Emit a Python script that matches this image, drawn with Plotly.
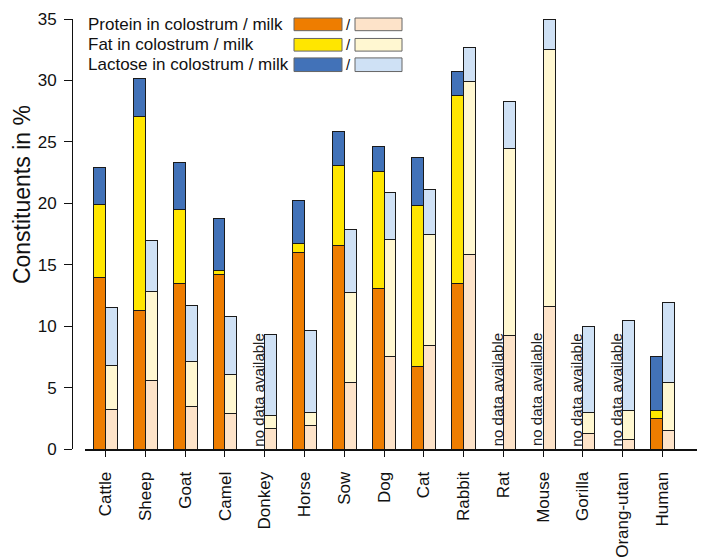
import plotly.graph_objects as go

animals = ["Cattle", "Sheep", "Goat", "Camel", "Donkey", "Horse", "Sow", "Dog",
           "Cat", "Rabbit", "Rat", "Mouse", "Gorilla", "Orang-utan", "Human"]

# colostrum segment values (%); None = no data available
col_protein = [14.0, 11.3, 13.5, 14.2, None, 16.0, 16.6, 13.05, 6.7, 13.5, None, None, None, None, 2.45]
col_fat     = [5.9, 15.75, 6.0, 0.3, None, 0.75, 6.45, 9.55, 13.15, 15.3, None, None, None, None, 0.65]
col_lactose = [3.05, 3.1, 3.85, 4.3, None, 3.45, 2.8, 2.0, 3.9, 1.9, None, None, None, None, 4.45]

# milk segment values (%)
milk_protein = [3.2, 5.6, 3.5, 2.9, 1.65, 1.9, 5.4, 7.5, 8.4, 15.8, 9.25, 11.6, 1.3, 0.8, 1.5]
milk_fat     = [3.6, 7.2, 3.6, 3.2, 1.05, 1.1, 7.35, 9.55, 9.05, 14.15, 15.25, 20.9, 1.7, 2.35, 3.9]
milk_lactose = [4.7, 4.2, 4.55, 4.65, 6.6, 6.65, 5.15, 3.8, 3.65, 2.7, 3.8, 2.5, 7.0, 7.35, 6.5]

y_ticks = [0, 5, 10, 15, 20, 25, 30, 35]
legend_labels = ["Protein in colostrum / milk", "Fat in colostrum / milk", "Lactose in colostrum / milk"]
y_title = "Constituents in %"
no_data_text = "no data available"

C_PROT, C_PROT_M = "#EE7D00", "#FDE3C9"
C_FAT, C_FAT_M = "#FFE600", "#FFF7D1"
C_LAC, C_LAC_M = "#4272B8", "#CFE1F5"

FONT = "Liberation Sans, Arial, sans-serif"
W_BAR = 0.3
xs = list(range(len(animals)))
x_col = [x - W_BAR / 2 for x in xs]
x_milk = [x + W_BAR / 2 for x in xs]

fig = go.Figure()
line = dict(color="#1a1a1a", width=1)
for xv, vals, col in [(x_col, col_protein, C_PROT), (x_col, col_fat, C_FAT), (x_col, col_lactose, C_LAC),
                      (x_milk, milk_protein, C_PROT_M), (x_milk, milk_fat, C_FAT_M), (x_milk, milk_lactose, C_LAC_M)]:
    fig.add_trace(go.Bar(x=xv, y=vals, width=W_BAR, marker=dict(color=col, line=line),
                         showlegend=False, hoverinfo="y", cliponaxis=False))

# "no data available" labels
for i, v in enumerate(col_protein):
    if v is None:
        fig.add_annotation(x=x_col[i], y=0.05, xref="x", yref="y", text=no_data_text,
                           textangle=-90, showarrow=False, xanchor="center", yanchor="bottom",
                           font=dict(family=FONT, size=15, color="#222"))

# page offset of 8px (browser body margin) compensated in the figure size
OFF = 8
FW, FH = 705 - OFF, 560 - OFF
L, R, T, B = 72 - OFF, 2, 12 - OFF, 106
PW, PH = FW - L - R, FH - T - B
def px(x): return (x - OFF - L) / PW
def py(y): return (FH - B - (y - OFF)) / PH

rows = [(11, 24), (32, 45), (52, 66)]
dark = [C_PROT, C_FAT, C_LAC]
light = [C_PROT_M, C_FAT_M, C_LAC_M]
for k, (y0, y1) in enumerate(rows):
    yc = (y0 + y1) / 2
    fig.add_annotation(x=px(86), y=py(yc), xref="paper", yref="paper", text=legend_labels[k],
                       showarrow=False, xanchor="left", yanchor="middle",
                       font=dict(family=FONT, size=17, color="#111"))
    fig.add_shape(type="rect", xref="paper", yref="paper", x0=px(294), x1=px(342), y0=py(y1), y1=py(y0),
                  fillcolor=dark[k], line=dict(color="#666", width=1))
    fig.add_shape(type="rect", xref="paper", yref="paper", x0=px(355), x1=px(402), y0=py(y1), y1=py(y0),
                  fillcolor=light[k], line=dict(color="#666", width=1))
    fig.add_annotation(x=px(348.5), y=py(yc), xref="paper", yref="paper", text="/",
                       showarrow=False, xanchor="center", yanchor="middle",
                       font=dict(family=FONT, size=15, color="#111"))

# y-axis title
fig.add_annotation(x=px(OFF), y=py(193), xref="paper", yref="paper", text=y_title,
                   textangle=-90, showarrow=False, xanchor="left", yanchor="middle", borderpad=0,
                   font=dict(family=FONT, size=23, color="#111"))

x0_dom = (85 - 72) / PW
fig.update_layout(
    width=FW, height=FH, barmode="stack",
    margin=dict(l=L, r=R, t=T, b=B, pad=0),
    plot_bgcolor="white", paper_bgcolor="white",
    font=dict(family=FONT, size=17, color="#111"),
    xaxis=dict(domain=[x0_dom, 1], range=[-0.52, 15.02], tickvals=xs, ticktext=animals,
               tickangle=-90, ticks="outside", ticklen=6, tickwidth=1, tickcolor="#111",
               ticklabelstandoff=8, ticklabeloverflow="allow",
               showline=True, linecolor="#111", linewidth=2, showgrid=False, zeroline=False,
               tickfont=dict(family=FONT, size=17, color="#111")),
    yaxis=dict(range=[0, 35], anchor="free", position=0, tickvals=y_ticks,
               ticks="outside", ticklen=8, tickwidth=1, tickcolor="#111", ticklabelstandoff=4,
               ticklabeloverflow="allow",
               showline=True, linecolor="#111", linewidth=1, showgrid=False, zeroline=False,
               tickfont=dict(family=FONT, size=17, color="#111")),
)

fig.write_html("out.html")
